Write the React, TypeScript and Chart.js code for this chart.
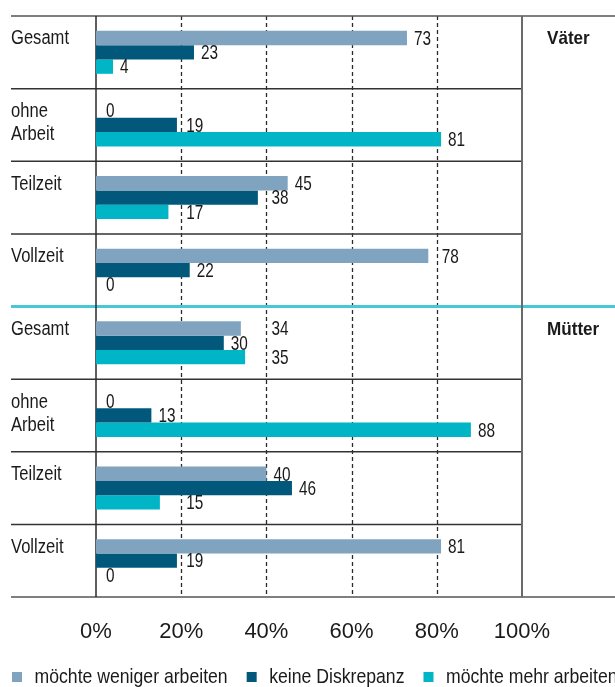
import React, { useEffect, useRef } from "react";
import { Chart, registerables } from "chart.js";

Chart.register(...registerables);

// ---- data ----
const categories: string[][] = [
  ["Gesamt"],
  ["ohne", "Arbeit"],
  ["Teilzeit"],
  ["Vollzeit"],
  ["Gesamt"],
  ["ohne", "Arbeit"],
  ["Teilzeit"],
  ["Vollzeit"],
];
const groupLabels = ["Väter", "Mütter"];
const seriesNames = ["möchte weniger arbeiten", "keine Diskrepanz", "möchte mehr arbeiten"];
const wenigerArbeiten = [73, 0, 45, 78, 34, 0, 40, 81];
const keineDiskrepanz = [23, 19, 38, 22, 30, 13, 46, 19];
const mehrArbeiten = [4, 81, 17, 0, 35, 88, 15, 0];
const gridValues = [20, 40, 60, 80];

// ---- styles ----
const SANS = '"Liberation Sans", Arial, sans-serif';
const COLORS = ["#80A3BF", "#02587B", "#00B6C6"];
const TEXT = "#1a1a1a";
const LINE_LEFT = 11;

// draw horizontally condensed text (no narrow font is installed)
function drawCondensed(ctx: CanvasRenderingContext2D, text: string, x: number, y: number, sx: number) {
  ctx.save();
  ctx.translate(x, y);
  ctx.scale(sx, 1);
  ctx.fillText(text, 0, 0);
  ctx.restore();
}

const framePlugin = {
  id: "frame",
  beforeDatasetsDraw(chart: any) {
    const { ctx, chartArea: ca, scales } = chart;
    const x = scales.x;
    const y = scales.y;
    const n = chart.data.labels.length;
    const band = (ca.bottom - ca.top) / n;
    const groupSize = n / groupLabels.length;
    const fullRight = chart.width;
    ctx.save();
    // dashed grid
    ctx.strokeStyle = "#2a2a2a";
    ctx.lineWidth = 1.3;
    ctx.setLineDash([4, 3]);
    gridValues.forEach((g) => {
      const px = Math.round(x.getPixelForValue(g)) + 0.5;
      ctx.beginPath();
      ctx.moveTo(px, ca.top);
      ctx.lineTo(px, ca.bottom);
      ctx.stroke();
    });
    ctx.setLineDash([]);
    // row separators
    for (let i = 1; i < n; i++) {
      const yy = y.getPixelForValue(i) - band / 2;
      ctx.beginPath();
      if (i % groupSize === 0) {
        ctx.strokeStyle = "#48C8D5";
        ctx.lineWidth = 3;
        ctx.moveTo(LINE_LEFT, yy);
        ctx.lineTo(fullRight, yy);
      } else {
        ctx.strokeStyle = "#333";
        ctx.lineWidth = 1.5;
        ctx.moveTo(LINE_LEFT, yy);
        ctx.lineTo(ca.right, yy);
      }
      ctx.stroke();
    }
    // top & bottom
    ctx.strokeStyle = "#555";
    ctx.lineWidth = 1.5;
    [ca.top, ca.bottom].forEach((yy) => {
      ctx.beginPath();
      ctx.moveTo(LINE_LEFT, yy);
      ctx.lineTo(fullRight, yy);
      ctx.stroke();
    });
    // verticals
    const x0 = x.getPixelForValue(0);
    const x100 = x.getPixelForValue(100);
    ctx.strokeStyle = "#2a2a2a";
    ctx.lineWidth = 1.5;
    ctx.beginPath();
    ctx.moveTo(x0, ca.top);
    ctx.lineTo(x0, ca.bottom);
    ctx.stroke();
    ctx.strokeStyle = "#6a6a6a";
    ctx.lineWidth = 2;
    ctx.beginPath();
    ctx.moveTo(x100, ca.top);
    ctx.lineTo(x100, ca.bottom);
    ctx.stroke();
    ctx.restore();
  },
};

const labelPlugin = {
  id: "labels",
  afterDatasetsDraw(chart: any) {
    const { ctx, chartArea: ca, scales } = chart;
    const x = scales.x;
    const y = scales.y;
    const n = chart.data.labels.length;
    const band = (ca.bottom - ca.top) / n;
    const groupSize = n / groupLabels.length;
    ctx.save();
    ctx.fillStyle = TEXT;
    ctx.textBaseline = "middle";
    ctx.textAlign = "left";
    // category labels
    ctx.font = `19.5px ${SANS}`;
    chart.data.labels.forEach((lab: string[], i: number) => {
      const top = y.getPixelForValue(i) - band / 2;
      lab.forEach((line, j) => {
        drawCondensed(ctx, line, LINE_LEFT, top + 23 + j * 23, 0.85);
      });
    });
    // group labels
    ctx.font = `bold 19px ${SANS}`;
    groupLabels.forEach((g, k) => {
      const top = y.getPixelForValue(k * groupSize) - band / 2;
      drawCondensed(ctx, g, ca.right + 25, top + 23, 0.9);
    });
    // value labels
    const vsx = 0.73;
    ctx.font = `21px ${SANS}`;
    chart.data.datasets.forEach((ds: any, d: number) => {
      const meta = chart.getDatasetMeta(d);
      meta.data.forEach((bar: any, i: number) => {
        const txt = String(ds.data[i]);
        const w = ctx.measureText(txt).width * vsx;
        let tx = bar.x + (ds.data[i] === 0 ? 10 : 7);
        gridValues.forEach((g) => {
          const gx = x.getPixelForValue(g);
          if (tx < gx + 3 && tx + w > gx - 3) tx = gx + 5;
        });
        drawCondensed(ctx, txt, tx, bar.y + 1, vsx);
      });
    });
    ctx.restore();
  },
  afterDraw(chart: any) {
    // legend
    const { ctx } = chart;
    const sx = 0.84;
    const box = 10;
    const textGap = 12.5;
    const itemGap = 19;
    const cy = 677;
    ctx.save();
    ctx.font = `21px ${SANS}`;
    ctx.textBaseline = "middle";
    ctx.textAlign = "left";
    const widths = chart.data.datasets.map((ds: any) => ctx.measureText(ds.label).width * sx);
    let cx = LINE_LEFT + 1;
    chart.data.datasets.forEach((ds: any, i: number) => {
      ctx.fillStyle = ds.backgroundColor;
      ctx.fillRect(cx, cy - box / 2, box, box);
      ctx.fillStyle = TEXT;
      drawCondensed(ctx, ds.label, cx + box + textGap, cy, sx);
      cx += box + textGap + widths[i] + itemGap;
    });
    ctx.restore();
  },
};

export default function App() {
  const ref = useRef<HTMLCanvasElement>(null);
  useEffect(() => {
    if (!ref.current) return;
    const chart = new Chart(ref.current, {
      type: "bar",
      data: {
        labels: categories as any,
        datasets: [
          { label: seriesNames[0], data: wenigerArbeiten, backgroundColor: COLORS[0] },
          { label: seriesNames[1], data: keineDiskrepanz, backgroundColor: COLORS[1] },
          { label: seriesNames[2], data: mehrArbeiten, backgroundColor: COLORS[2] },
        ],
      },
      options: {
        indexAxis: "y",
        responsive: false,
        animation: false,
        layout: { padding: { top: 16, bottom: 43.5, left: 0, right: 0 } },
        datasets: { bar: { categoryPercentage: 0.592, barPercentage: 1 } } as any,
        scales: {
          x: {
            type: "linear",
            position: "bottom",
            min: 0,
            max: 100,
            grid: { display: false, drawTicks: false },
            border: { display: false },
            ticks: {
              stepSize: 20,
              padding: 21.8,
              autoSkip: false,
              maxRotation: 0,
              color: TEXT,
              font: { family: SANS, size: 22 },
              callback: (v: any) => v + "%",
            },
            afterFit: (s: any) => {
              s.height = 46.5;
            },
          },
          y: {
            type: "category",
            position: "left",
            grid: { display: false, drawTicks: false },
            border: { display: false },
            ticks: { display: false },
            afterFit: (s: any) => {
              s.width = 96;
            },
          },
          yRight: {
            type: "category",
            position: "right",
            grid: { display: false, drawTicks: false },
            border: { display: false },
            ticks: { display: false },
            afterFit: (s: any) => {
              s.width = 93;
            },
          },
        } as any,
        plugins: {
          legend: { display: false },
          tooltip: { enabled: false },
        },
      },
      plugins: [framePlugin, labelPlugin],
    });
    return () => chart.destroy();
  }, []);
  return (
    <div style={{ position: "absolute", left: 0, top: 0, width: 615, height: 687, overflow: "hidden", background: "#fff" }}>
      <canvas ref={ref} width={615} height={687} style={{ display: "block" }} />
    </div>
  );
}
